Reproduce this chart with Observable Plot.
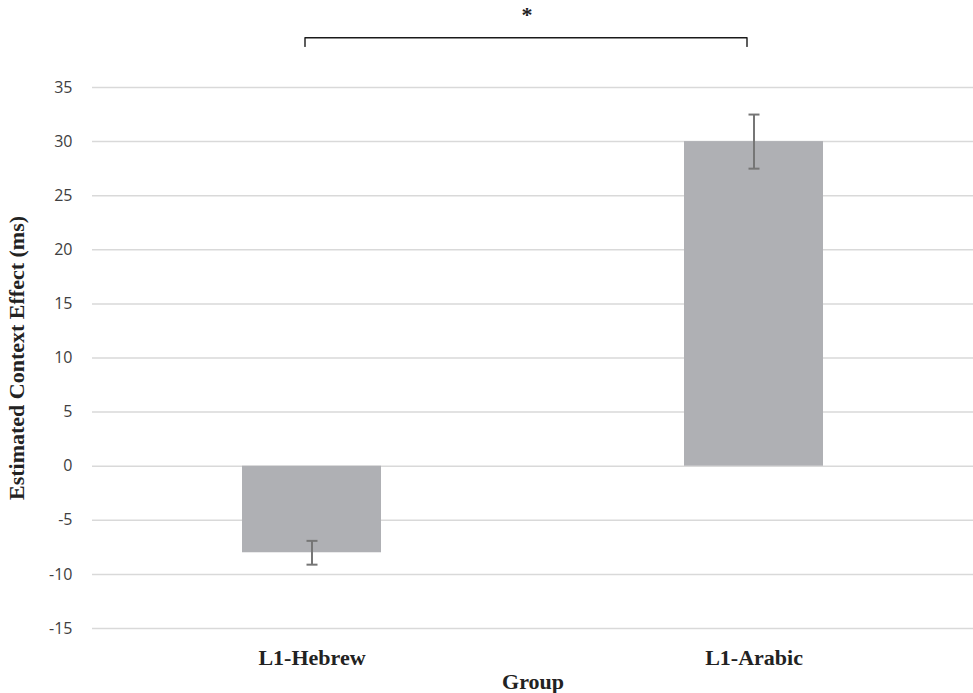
<!DOCTYPE html>
<html>
<head>
<meta charset="utf-8">
<script src="https://cdn.jsdelivr.net/npm/d3@7"></script>
<script src="https://cdn.jsdelivr.net/npm/@observablehq/plot@0.6"></script>
<style>
  html, body { margin: 0; padding: 0; background: #fff; }
  #chart svg { display: block; }
</style>
</head>
<body>
<div id="chart"></div>
<script>
// ---- data ----
const groups = ["L1-Hebrew", "L1-Arabic"];
const effects = [-8, 30];
const errors = [1.1, 2.5];
const yTicks = [-15, -10, -5, 0, 5, 10, 15, 20, 25, 30, 35];
const bracketGroups = ["L1-Hebrew", "L1-Hebrew", "L1-Arabic", "L1-Arabic"];
const bracketLevels = [38.8, 39.6, 39.6, 38.8];
const significance = "*";
const significanceLevel = 42.5;
const yLabel = "Estimated Context Effect (ms)";
const xLabel = "Group";

const data = groups.map((g, i) => ({group: g, value: effects[i], lo: effects[i] - errors[i], hi: effects[i] + errors[i]}));
const bracket = bracketGroups.map((g, i) => ({group: g, level: bracketLevels[i]}));

const capSymbol = {
  draw(ctx) { ctx.moveTo(-5.5, 0); ctx.lineTo(5.5, 0); }
};

const serif = "'Liberation Serif', 'Times New Roman', serif";
const sans = "'Open Sans', 'Noto Sans', sans-serif";

const chart = Plot.plot({
  width: 973,
  height: 693,
  marginTop: 87,
  marginBottom: 65,
  marginLeft: 92,
  marginRight: 0,
  style: {background: "#fff", overflow: "visible"},
  x: {domain: groups, paddingInner: 0.686, paddingOuter: 0.3375, label: null},
  y: {domain: [-15, 35], label: null},
  marks: [
    Plot.gridY(yTicks, {stroke: "#d9d9d9", strokeOpacity: 1, strokeWidth: 1.5}),
    Plot.axisY(yTicks, {tickSize: 0, tickPadding: 20, tickFormat: d => String(d),
      fontSize: 16, fontFamily: sans, fill: "#404040",
      label: yLabel, labelAnchor: "center", labelArrow: "none", labelOffset: 84}),
    Plot.axisX({tickSize: 0, tickPadding: 21, fontSize: 22, fontWeight: "bold", fontFamily: serif, fill: "#222",
      label: xLabel, labelAnchor: "center", labelArrow: "none", labelOffset: 60}),
    Plot.barY(data, {x: "group", y: "value", fill: "#afb0b4"}),
    Plot.ruleX(data, {x: "group", y1: "lo", y2: "hi", stroke: "#767676", strokeWidth: 2}),
    Plot.dot(data, {x: "group", y: "lo", symbol: capSymbol, stroke: "#767676", strokeWidth: 2, fill: "none"}),
    Plot.dot(data, {x: "group", y: "hi", symbol: capSymbol, stroke: "#767676", strokeWidth: 2, fill: "none"}),
    Plot.line(bracket, {x: "group", y: "level", stroke: "#1a1a1a", strokeWidth: 1.4, dx: -7}),
    Plot.text([significance], {frameAnchor: "top", y: significanceLevel, text: d => d, dx: -6,
      fontSize: 22, fontWeight: "bold", fontFamily: serif, fill: "#222"})
  ]
});

// style axis labels as bold serif
chart.querySelectorAll("g[aria-label='y-axis label'] text, g[aria-label='x-axis label'] text").forEach(t => {
  t.setAttribute("font-family", serif);
  t.setAttribute("font-weight", "bold");
  t.setAttribute("font-size", 22);
  t.setAttribute("fill", "#222");
});
document.getElementById("chart").appendChild(chart);
</script>
</body>
</html>
